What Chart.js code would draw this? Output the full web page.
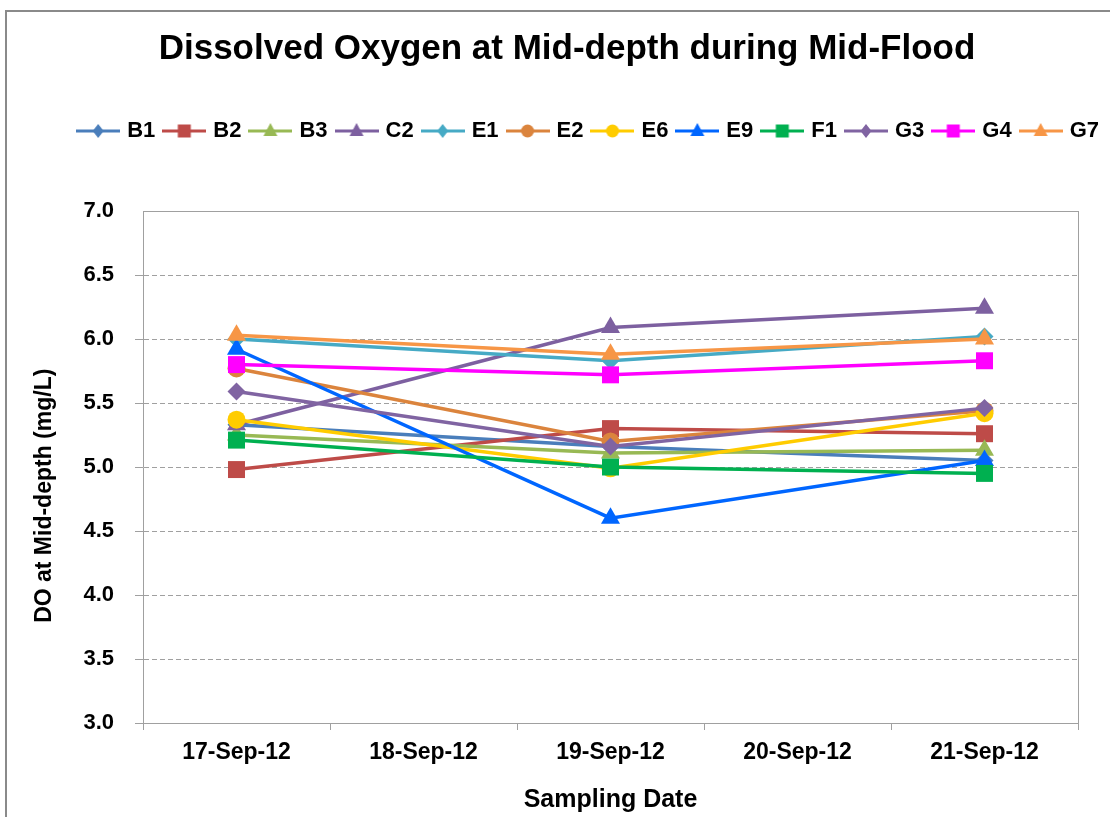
<!DOCTYPE html>
<html>
<head>
<meta charset="utf-8">
<script src="https://cdn.jsdelivr.net/npm/chart.js@4.4.1/dist/chart.umd.min.js"></script>
<style>
  body { margin: 0; background: #fff; }
  #wrap { position: relative; width: 1110px; height: 817px; }
</style>
</head>
<body>
<div id="wrap"><canvas id="doChart" width="1110" height="817"></canvas></div>
<script>
// sampling dates (18th and 20th have no samples)
const dates = ['17-Sep-12', '18-Sep-12', '19-Sep-12', '20-Sep-12', '21-Sep-12'];
const stations = ['B1', 'B2', 'B3', 'C2', 'E1', 'E2', 'E6', 'E9', 'F1', 'G3', 'G4', 'G7'];

// DO at mid-depth, mg/L
const B1 = [5.33, null, 5.16, null, 5.05];
const B2 = [4.98, null, 5.30, null, 5.26];
const B3 = [5.25, null, 5.11, null, 5.13];
const C2 = [5.33, null, 6.09, null, 6.24];
const E1 = [6.00, null, 5.83, null, 6.02];
const E2 = [5.77, null, 5.20, null, 5.44];
const E6 = [5.37, null, 4.99, null, 5.42];
const E9 = [5.92, null, 4.60, null, 5.05];
const F1 = [5.21, null, 5.00, null, 4.95];
const G3 = [5.59, null, 5.16, null, 5.46];
const G4 = [5.80, null, 5.72, null, 5.83];
const G7 = [6.03, null, 5.88, null, 6.00];
const seriesValues = [B1, B2, B3, C2, E1, E2, E6, E9, F1, G3, G4, G7];

const yTicks = [3.0, 3.5, 4.0, 4.5, 5.0, 5.5, 6.0, 6.5, 7.0];

const seriesColors = ['#4A7EBB', '#BE4B48', '#98B954', '#7D60A0', '#46AAC5', '#DB843D',
                      '#FFCC00', '#0066FF', '#00B050', '#8064A2', '#FF00FF', '#F79646'];
const seriesMarkers = ['rectRot', 'rect', 'triangle', 'triangle', 'rectRot', 'circle',
                       'circle', 'triangle', 'rect', 'rectRot', 'rect', 'triangle'];
const markerRadius = { rectRot: 9, rect: 12, triangle: 11, circle: 9 };

const fontFamily = "'Liberation Sans', Arial, sans-serif";
const axisGray = '#a0a0a0';

// small line+marker picture used as the legend symbol
function legendImage(color, marker) {
    const c = document.createElement('canvas');
    c.width = 44; c.height = 18;
    const g = c.getContext('2d');
    g.strokeStyle = color;
    g.lineWidth = 3;
    g.beginPath(); g.moveTo(0, 9); g.lineTo(44, 9); g.stroke();
    g.fillStyle = color;
    g.beginPath();
    const x = 22, y = 9;
    if (marker === 'rect') {
        g.rect(x - 6.5, y - 6.5, 13, 13);
    } else if (marker === 'circle') {
        g.arc(x, y, 6.5, 0, Math.PI * 2);
    } else if (marker === 'rectRot') {
        g.moveTo(x, y - 7); g.lineTo(x + 5.5, y); g.lineTo(x, y + 7); g.lineTo(x - 5.5, y); g.closePath();
    } else {
        g.moveTo(x, y - 8); g.lineTo(x + 7, y + 5); g.lineTo(x - 7, y + 5); g.closePath();
    }
    g.fill();
    return c;
}
const legendImages = seriesColors.map((c, i) => legendImage(c, seriesMarkers[i]));

const datasets = stations.map((name, i) => ({
    label: name,
    data: seriesValues[i],
    borderColor: seriesColors[i],
    backgroundColor: seriesColors[i],
    borderWidth: 3.5,
    pointStyle: seriesMarkers[i],
    pointRadius: markerRadius[seriesMarkers[i]],
    pointBorderWidth: 0,
    pointHoverRadius: markerRadius[seriesMarkers[i]],
    spanGaps: true,
    tension: 0,
    order: stations.length - i   // later series drawn on top, like the original
}));

// outer frame of the chart picture
const framePlugin = {
    id: 'frame',
    beforeDraw(chart) {
        const ctx = chart.ctx;
        ctx.save();
        ctx.strokeStyle = '#8a8a8a';
        ctx.lineWidth = 2;
        ctx.strokeRect(6, 11, 1200, 900);
        ctx.restore();
    }
};

const ctx = document.getElementById('doChart').getContext('2d');
new Chart(ctx, {
    type: 'line',
    data: { labels: dates, datasets: datasets },
    plugins: [framePlugin],
    options: {
        responsive: false,
        animation: false,
        layout: { padding: { left: 24, right: 0, top: 0, bottom: 0 } },
        plugins: {
            title: {
                display: true,
                text: 'Dissolved Oxygen at Mid-depth during Mid-Flood',
                color: '#000',
                font: { family: fontFamily, size: 35, weight: 'bold' },
                padding: { top: 28, bottom: 39 }
            },
            legend: {
                align: 'end',
                labels: {
                    color: '#000',
                    font: { family: fontFamily, size: 22, weight: 'bold' },
                    usePointStyle: true,
                    pointStyleWidth: 36,
                    padding: 11,
                    generateLabels: chart => chart.data.datasets.map((ds, i) => ({
                        text: ds.label,
                        pointStyle: legendImages[i],
                        fillStyle: ds.borderColor,
                        strokeStyle: ds.borderColor,
                        lineWidth: 0,
                        hidden: false,
                        datasetIndex: i
                    }))
                }
            },
            tooltip: { enabled: false }
        },
        scales: {
            x: {
                type: 'category',
                offset: true,
                grid: { offset: true, drawOnChartArea: false, color: axisGray, tickLength: 7 },
                border: { color: axisGray, width: 1 },
                ticks: {
                    color: '#000',
                    font: { family: fontFamily, size: 23, weight: 'bold' },
                    padding: 9,
                    maxRotation: 0,
                    autoSkip: false
                },
                title: {
                    display: true,
                    text: 'Sampling Date',
                    color: '#000',
                    font: { family: fontFamily, size: 25, weight: 'bold' },
                    padding: { top: 0, bottom: 2 }
                },
                afterFit: s => { s.height = 94; }
            },
            xTop: {
                type: 'linear',
                axis: 'x',
                position: 'top',
                grid: { display: false, drawTicks: false },
                ticks: { display: false },
                border: { display: true, color: axisGray },
                afterFit: s => { s.height = 59; }
            },
            y: {
                min: 3,
                max: 7,
                afterBuildTicks: s => { s.ticks = yTicks.map(v => ({ value: v })); },
                ticks: {
                    callback: v => Number(v).toFixed(1),
                    color: '#000',
                    font: { family: fontFamily, size: 22, weight: 'bold' },
                    padding: 21
                },
                grid: {
                    color: c => (c.tick && (c.tick.value === 7 || c.tick.value === 3)) ? 'rgba(0,0,0,0)' : axisGray,
                    tickColor: c => (c.tick && c.tick.value === 7) ? 'rgba(0,0,0,0)' : axisGray,
                    borderDash: [5, 3],
                    tickBorderDash: [],
                    tickLength: 8
                },
                border: { color: axisGray, dash: [5, 3] },
                title: {
                    display: true,
                    // trailing spaces push the rotated title down, as in the original
                    text: 'DO at Mid-depth (mg/L)\u00a0\u00a0\u00a0\u00a0\u00a0\u00a0\u00a0\u00a0\u00a0',
                    color: '#000',
                    font: { family: fontFamily, size: 23, weight: 'bold' },
                    padding: { top: 7, bottom: 0 }
                },
                afterFit: s => { s.width = 119; }
            },
            yRight: {
                type: 'linear',
                axis: 'y',
                position: 'right',
                grid: { display: false, drawTicks: false },
                ticks: { display: false },
                border: { display: true, color: axisGray },
                afterFit: s => { s.width = 32; }
            }
        }
    }
});
</script>
</body>
</html>
